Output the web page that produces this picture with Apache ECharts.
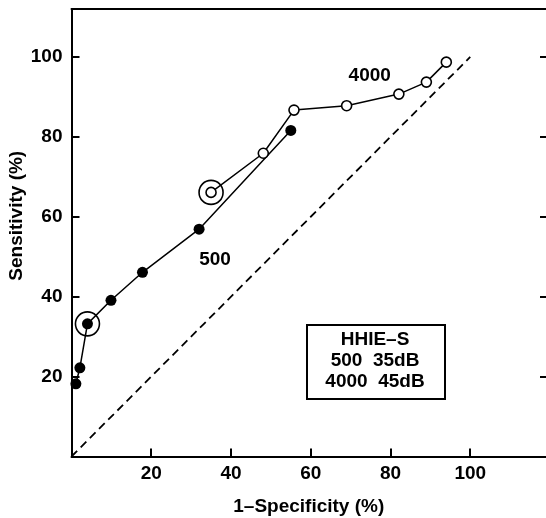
<!DOCTYPE html>
<html>
<head>
<meta charset="utf-8">
<script src="https://cdn.jsdelivr.net/npm/echarts@6/dist/echarts.min.js"></script>
<style>
  html, body { margin: 0; padding: 0; background: #fff; }
  #chart { width: 546px; height: 518px; }
</style>
</head>
<body>
<div id="chart"></div>
<script>
// 500 Hz curve (filled dots)
const fpr500 = [1.1, 2.1, 4, 9.9, 17.8, 32, 55]
const sens500 = [18.2, 22.2, 33.2, 39.1, 46.1, 56.9, 81.6]
// 4000 Hz curve (open dots)
const fpr4000 = [35, 48.1, 55.8, 69, 82.1, 89, 94]
const sens4000 = [66.1, 75.9, 86.7, 87.8, 90.7, 93.7, 98.7]
// circled cut-off points
const ringPoints = [[4, 33.2], [35, 66.1]]
// chance diagonal
const chanceLine = [[0, 0], [100, 100]]
// curve labels
const curveNames = ['500', '4000']
const curveNamePos = [[36, 49.3], [74.8, 95.4]]
// legend box text
const boxLines = ['HHIE\u2013S', '500  35dB', '4000  45dB']
const xTicks = [20, 40, 60, 80, 100]

const font = "'Liberation Sans', Arial, sans-serif"
const pair = (xs, ys) => xs.map((x, i) => [x, ys[i]])

const chart = echarts.init(document.getElementById('chart'))

const xBase = { type: 'value', min: 0, max: 119, interval: 20 }
const yBase = { type: 'value', min: 0, max: 112, interval: 20 }
const blackLine = { onZero: false, lineStyle: { color: '#000', width: 2 } }

const option = {
  animation: false,
  backgroundColor: '#fff',
  grid: { left: 71.5, right: 0, top: 9, bottom: 61.5, outerBoundsMode: 'none', containLabel: false },
  xAxis: [
    {
      ...xBase,
      position: 'bottom',
      name: '1\u2013Specificity (%)',
      nameLocation: 'middle',
      nameGap: 41,
      nameMoveOverlap: false,
      nameTextStyle: { color: '#000', fontSize: 19, fontWeight: 'bold', fontFamily: font },
      axisLine: blackLine,
      axisTick: { inside: true, length: 8, lineStyle: { color: '#000', width: 2 } },
      axisLabel: {
        color: '#000', fontSize: 19, fontWeight: 'bold', fontFamily: font, margin: 8,
        showMinLabel: false, showMaxLabel: false,
        formatter: v => xTicks.includes(v) ? String(v) : ''
      },
      splitLine: { show: false }
    },
    {
      ...xBase,
      position: 'top',
      axisLine: blackLine,
      axisTick: { show: false },
      axisLabel: { show: false },
      splitLine: { show: false }
    }
  ],
  yAxis: [
    {
      ...yBase,
      position: 'left',
      name: 'Sensitivity (%)',
      nameLocation: 'middle',
      nameGap: 45,
      nameMoveOverlap: false,
      nameTextStyle: {
        color: '#000', fontSize: 19, fontWeight: 'bold', fontFamily: font,
        padding: [0, 0, 0, 34]
      },
      axisLine: blackLine,
      axisTick: { inside: true, length: 8, lineStyle: { color: '#000', width: 2 } },
      axisLabel: {
        color: '#000', fontSize: 19, fontWeight: 'bold', fontFamily: font, margin: 9,
        showMinLabel: false, showMaxLabel: false
      },
      splitLine: { show: false }
    },
    {
      ...yBase,
      position: 'right',
      axisLine: { show: false, onZero: false },
      axisTick: { inside: true, length: 6, lineStyle: { color: '#000', width: 2 } },
      axisLabel: { show: false },
      splitLine: { show: false }
    }
  ],
  series: [
    {
      name: 'chance',
      type: 'line',
      data: chanceLine,
      symbol: 'none',
      lineStyle: { color: '#000', width: 1.8, type: [8, 5] },
      z: 1
    },
    {
      name: '500',
      type: 'line',
      data: pair(fpr500, sens500),
      symbol: 'circle',
      symbolSize: 11,
      itemStyle: { color: '#000' },
      lineStyle: { color: '#000', width: 1.5 },
      z: 3
    },
    {
      name: '4000',
      type: 'line',
      data: pair(fpr4000, sens4000),
      symbol: 'circle',
      symbolSize: 10,
      itemStyle: { color: '#fff', borderColor: '#000', borderWidth: 1.6 },
      lineStyle: { color: '#000', width: 1.5 },
      z: 3
    },
    {
      name: 'rings',
      type: 'scatter',
      data: ringPoints,
      symbol: 'circle',
      symbolSize: 24,
      itemStyle: { color: 'rgba(0,0,0,0)', borderColor: '#000', borderWidth: 1.6, opacity: 1 },
      z: 4
    },
    {
      name: 'labels',
      type: 'scatter',
      data: curveNamePos.map((p, i) => ({ value: p, name: curveNames[i] })),
      symbolSize: 0,
      itemStyle: { opacity: 1 },
      label: {
        show: true, position: 'inside', formatter: '{b}',
        color: '#000', fontSize: 19, fontWeight: 'bold', fontFamily: font
      },
      z: 5
    }
  ],
  graphic: [
    {
      type: 'rect',
      left: 306,
      top: 324,
      shape: { width: 138, height: 74 },
      style: { fill: '#fff', stroke: '#000', lineWidth: 2 },
      z: 10
    },
    ...boxLines.map((t, i) => ({
      type: 'text',
      x: 375,
      y: 340 + i * 21,
      style: {
        text: t, fill: '#000', font: 'bold 19px ' + font,
        textAlign: 'center', textVerticalAlign: 'middle'
      },
      z: 11
    }))
  ]
}

chart.setOption(option)
</script>
</body>
</html>
